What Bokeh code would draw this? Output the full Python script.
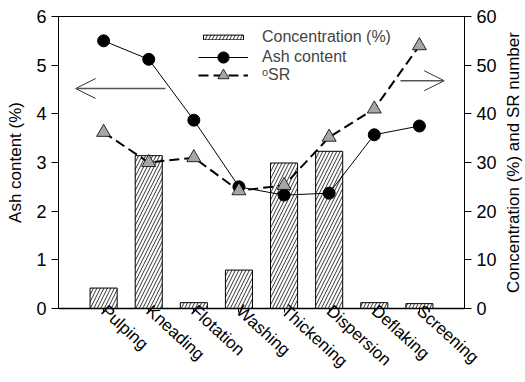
import math
from bokeh.plotting import figure
from bokeh.models import (Range1d, LinearAxis, Arrow, OpenHead, Legend, LegendItem, FixedTicker,
                          ColumnDataSource, Label)
from bokeh.embed import file_html
from bokeh.resources import INLINE

categories = ["Pulping", "Kneading", "Flotation", "Washing", "Thickening", "Dispersion", "Deflaking", "Screening"]
concentration = [4.2, 31.4, 1.2, 7.9, 29.9, 32.3, 1.2, 1.0]
ash_content = [5.50, 5.12, 3.87, 2.50, 2.33, 2.37, 3.57, 3.75]
sr_number = [36.2, 30.0, 31.0, 24.2, 25.3, 35.2, 41.0, 54.0]
left_ticks = [0, 1, 2, 3, 4, 5, 6]
right_ticks = [0, 10, 20, 30, 40, 50, 60]

xpos = list(range(1, len(categories) + 1))
FONT = "Liberation Sans"

p = figure(width=525, height=382, output_backend="svg", toolbar_location=None,
           x_range=Range1d(0, 9), y_range=Range1d(0, 6),
           min_border_left=58, min_border_right=61, min_border_top=16, min_border_bottom=74)
p.extra_y_ranges = {"right": Range1d(0, 60)}
p.grid.visible = False
p.outline_line_color = "black"
p.outline_line_width = 1
p.background_fill_color = "white"

src = ColumnDataSource(dict(x=xpos, conc=concentration, ash=ash_content, sr=sr_number))

bars = p.vbar(x="x", top="conc", width=0.6, bottom=0, source=src, y_range_name="right",
              fill_color="white", line_color="black", line_width=1,
              hatch_pattern="/", hatch_color="black", hatch_scale=7, hatch_weight=0.8)
ash_line = p.line("x", "ash", source=src, line_color="black", line_width=1)
ash_pts = p.scatter("x", "ash", source=src, marker="circle", size=12, fill_color="black", line_color="black")
sr_line = p.line("x", "sr", source=src, y_range_name="right", line_color="black", line_width=2, line_dash="10 5")
sr_pts = p.scatter("x", "sr", source=src, y_range_name="right", marker="triangle", size=14,
                   fill_color="#a6a6a6", line_color="black", line_width=0.8)

# x axis
p.xaxis.ticker = FixedTicker(ticks=xpos)
p.xaxis.major_label_overrides = {x: c for x, c in zip(xpos, categories)}
p.xaxis.major_label_orientation = -0.74
p.xaxis.major_label_text_font = FONT
p.xaxis.major_label_text_font_size = "17px"
p.xaxis.major_label_text_color = "black"
p.xaxis.major_label_standoff = -4
p.xaxis.minor_tick_line_color = None
p.xaxis.major_tick_in = 0
p.xaxis.major_tick_out = 4
p.xaxis.axis_line_width = 1.5

p.yaxis.ticker = FixedTicker(ticks=left_ticks)
p.yaxis.axis_label = "Ash content (%)"
ax_r = LinearAxis(y_range_name="right", ticker=FixedTicker(ticks=right_ticks))
p.add_layout(ax_r, "right")
for ax in (p.yaxis[0], ax_r):
    ax.minor_tick_line_color = None
    ax.major_tick_in = 0
    ax.major_tick_out = 7
    ax.major_label_text_font = FONT
    ax.major_label_text_font_size = "18px"
    ax.major_label_text_color = "black"
    ax.axis_label_text_font = FONT
    ax.axis_label_text_font_size = "17px"
    ax.axis_label_text_font_style = "normal"
    ax.axis_label_text_color = "black"
    ax.axis_label_standoff = 8
    ax.major_label_standoff = 5

right_title = Label(x=14, y=146, x_units="screen", y_units="screen",
                    text="Concentration (%) and SR number", angle=math.pi / 2,
                    text_align="center", text_baseline="middle",
                    text_font=FONT, text_font_size="17px", text_color="black")
p.add_layout(right_title, "right")

# arrows
arrow_left = dict(x_start=2.37, x_end=0.38, y=4.52)
arrow_right = dict(x_start=7.58, x_end=8.55, y=4.68)
for a in (arrow_left, arrow_right):
    p.add_layout(Arrow(end=OpenHead(size=20, line_color="#333333", line_width=1),
                       x_start=a["x_start"], y_start=a["y"], x_end=a["x_end"], y_end=a["y"],
                       line_color="#555555", line_width=1.5))

def make_legend(label, renderers, gh, loc):
    lg = Legend(items=[LegendItem(label=label, renderers=renderers)], location=loc)
    lg.background_fill_alpha = 0
    lg.border_line_alpha = 0
    lg.label_text_font = FONT
    lg.label_text_font_size = "16px"
    lg.glyph_width = 50
    lg.glyph_height = gh
    lg.padding = 0
    lg.margin = 0
    lg.spacing = 0
    lg.label_standoff = 14
    lg.label_height = 16
    p.add_layout(lg, "center")

make_legend("Concentration (%)", [bars], 6, (140, 262))
make_legend("Ash content", [ash_line, ash_pts], 28, (140, 237))
make_legend("ᵒSR", [sr_line, sr_pts], 28, (140, 219))

open("out.html", "w").write(file_html(p, INLINE))
